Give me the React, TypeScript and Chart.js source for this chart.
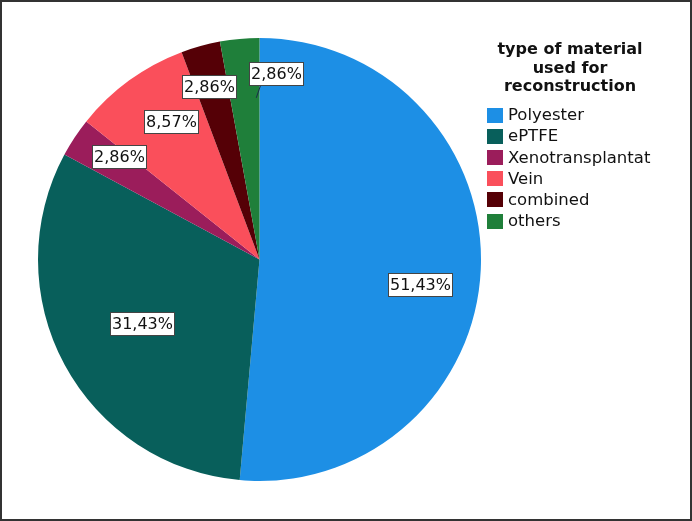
import React, { useEffect, useRef } from "react";
import { Chart, registerables } from "chart.js";

Chart.register(...registerables);

const categories = ["Polyester", "ePTFE", "Xenotransplantat", "Vein", "combined", "others"];
const percentages = [51.43, 31.43, 2.86, 8.57, 2.86, 2.86];
const valueLabels = ["51,43%", "31,43%", "2,86%", "8,57%", "2,86%", "2,86%"];
const legendTitle = ["type of material", "used for", "reconstruction"];
const colors = ["#1d8fe5", "#085f5b", "#9b1d5b", "#fa4f5b", "#550006", "#1f7f3a"];

const FONT = "'DejaVu Sans', sans-serif";

const framePlugin = {
  id: "frame",
  beforeDraw(chart: any) {
    const { ctx, width, height } = chart;
    ctx.save();
    ctx.fillStyle = "#ffffff";
    ctx.fillRect(0, 0, width, height);
    ctx.restore();
  },
  afterDraw(chart: any) {
    const { ctx, width, height } = chart;
    ctx.save();
    ctx.strokeStyle = "#333333";
    ctx.lineWidth = 2;
    ctx.strokeRect(1, 1, width - 2, height - 2);
    ctx.restore();
  },
};

// radial fraction and pixel shifts for each label box
const labelLayout = [
  { r: 0.74, dx: -3, dy: 18, leader: false },
  { r: 0.61, dx: 1, dy: 0, leader: false },
  { r: 0.78, dx: 4, dy: -8, leader: false },
  { r: 0.74, dx: 8, dy: -5, leader: false },
  { r: 0.81, dx: -3, dy: 0, leader: false },
  { r: 0.84, dx: 33, dy: -1, leader: true },
];

const labelPlugin = {
  id: "sliceLabels",
  afterDatasetsDraw(chart: any) {
    const { ctx } = chart;
    const meta = chart.getDatasetMeta(0);
    ctx.save();
    ctx.font = `16px ${FONT}`;
    ctx.textBaseline = "middle";
    ctx.textAlign = "center";
    meta.data.forEach((arc: any, i: number) => {
      const p = arc.getProps(["x", "y", "startAngle", "endAngle", "outerRadius"], true);
      const mid = (p.startAngle + p.endAngle) / 2;
      const lay = labelLayout[i];
      const px = p.x + Math.cos(mid) * p.outerRadius * lay.r + lay.dx;
      const py = p.y + Math.sin(mid) * p.outerRadius * lay.r + lay.dy;
      const text = valueLabels[i];
      const w = Math.round(ctx.measureText(text).width + 3);
      const h = 23;
      const left = Math.round(px - w / 2) + 0.5;
      const top = Math.round(py - h / 2) + 0.5;
      if (lay.leader) {
        const ang = p.endAngle - 0.02;
        const tx = p.x + Math.cos(ang) * p.outerRadius * 0.73;
        const ty = p.y + Math.sin(ang) * p.outerRadius * 0.73;
        ctx.strokeStyle = "#1a2a4a";
        ctx.lineWidth = 1;
        ctx.beginPath();
        ctx.moveTo(left + 11, top + h);
        ctx.lineTo(tx, ty);
        ctx.stroke();
      }
      ctx.fillStyle = "#ffffff";
      ctx.fillRect(left, top, w, h);
      ctx.strokeStyle = "#444444";
      ctx.lineWidth = 1;
      ctx.strokeRect(left, top, w, h);
      ctx.fillStyle = "#111111";
      ctx.fillText(text, left + w / 2, top + h / 2 + 1);
    });
    ctx.restore();
  },
};

const legendPlugin = {
  id: "customLegend",
  afterDraw(chart: any) {
    const { ctx } = chart;
    const labels = chart.data.labels as string[];
    const bg = chart.data.datasets[0].backgroundColor as string[];
    ctx.save();
    ctx.fillStyle = "#111111";
    ctx.textBaseline = "middle";
    ctx.textAlign = "center";
    ctx.font = `bold 16px ${FONT}`;
    legendTitle.forEach((line, i) => {
      ctx.fillText(line, 570, 50 + i * 18.5);
    });
    ctx.textAlign = "left";
    ctx.font = `16.5px ${FONT}`;
    labels.forEach((lab, i) => {
      const cy = 115 + i * 21.2;
      ctx.fillStyle = bg[i];
      ctx.fillRect(487, Math.round(cy - 7.5), 16, 15);
      ctx.fillStyle = "#111111";
      ctx.fillText(lab, 508, cy + 1);
    });
    ctx.restore();
  },
};

export default function App() {
  const ref = useRef<HTMLCanvasElement | null>(null);
  useEffect(() => {
    document.body.style.margin = "0";
    if (!ref.current) return;
    const chart = new Chart(ref.current, {
      type: "pie",
      data: {
        labels: categories,
        datasets: [
          {
            data: percentages,
            backgroundColor: colors,
            borderWidth: 0,
          },
        ],
      },
      options: {
        animation: false,
        responsive: false,
        layout: { padding: { left: 38, top: 38, bottom: 40, right: 211 } },
        plugins: {
          legend: { display: false },
          tooltip: { enabled: false },
        },
      },
      plugins: [framePlugin, labelPlugin, legendPlugin],
    });
    return () => chart.destroy();
  }, []);
  return (
    <div style={{ width: 692, height: 521 }}>
      <canvas ref={ref} width={692} height={521} style={{ display: "block" }} />
    </div>
  );
}
